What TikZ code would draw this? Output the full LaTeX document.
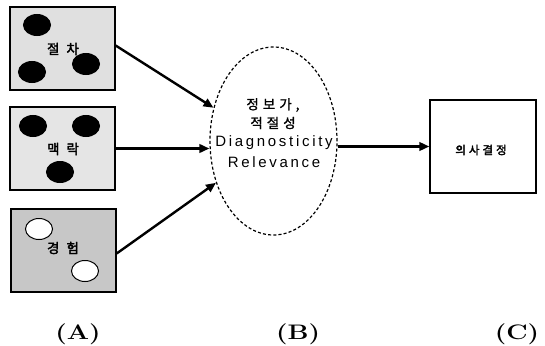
\documentclass[tikz,border=0pt]{standalone}
\usepackage{fontspec}
\usepackage{graphicx}
\usetikzlibrary{shapes.geometric,arrows.meta}
\setmainfont{Latin Modern Roman}
\newfontfamily\kofont{Noto Sans CJK KR}
\newfontfamily\kobold{Noto Sans CJK KR}[FakeBold=2.5]
\newfontfamily\latsp[LetterSpace=18]{Liberation Sans}
\newfontfamily\kosp[LetterSpace=30,FakeBold=1.5]{Noto Sans CJK KR}
\begin{document}
\begin{tikzpicture}[x=1pt,y=-1pt,
  srcbox/.style={draw=black,line width=1.3pt,minimum width=105pt,minimum height=83pt,inner sep=0pt},
  dot/.style={ellipse,draw=black,line width=1pt,minimum width=27pt,minimum height=21pt,inner sep=0pt},
  blackdot/.style={dot,fill=black},
  whitedot/.style={dot,fill=white},
  arr/.style={line width=2.4pt,-{Triangle[length=10pt,width=8.5pt]}},
  boxtxt/.style={font=\kobold\fontsize{13.5}{15}\selectfont},
  lab/.style={font=\bfseries\fontsize{21}{23}\selectfont}]
\useasboundingbox (0,0) rectangle (545,345);
% source boxes
\node[srcbox,fill=black!12] (b1) at (62.5,48.5) {};
\node[srcbox,fill=black!10] (b2) at (62.5,148.5) {};
\node[srcbox,fill=black!22] (b3) at (63.5,250.5) {};
% dots
\node[blackdot] (d11) at (37,25) {};
\node[blackdot] (d12) at (32,72) {};
\node[blackdot] (d13) at (86,64) {};
\node[blackdot] (d21) at (33,126) {};
\node[blackdot] (d22) at (86,126) {};
\node[blackdot] (d23) at (60,172) {};
\node[whitedot] (d31) at (39,229) {};
\node[whitedot] (d32) at (85,271) {};
% box texts
\node[boxtxt] (t1) at (63,49) {절\hspace{7pt}차};
\node[boxtxt] (t2) at (63,149) {맥\hspace{7pt}락};
\node[boxtxt] (t3) at (63,248) {경\hspace{7pt}험};
% ellipse
\node[ellipse,draw=black,line width=1.2pt,dash pattern=on 3pt off 2.2pt,minimum width=127pt,minimum height=188pt,inner sep=0pt] (B) at (273.5,141) {};
\node[font=\kosp\fontsize{13.5}{15}\selectfont] (e1) at (273,105) {정보가,};
\node[font=\kosp\fontsize{13.5}{15}\selectfont] (e2) at (273,123) {적절성};
\node[font=\latsp\fontsize{15}{17}\selectfont] (e3) at (274,143) {Diagnosticity};
\node[font=\latsp\fontsize{15}{17}\selectfont] (e4) at (274,162) {Relevance};
% decision box
\node[draw=black,line width=1.3pt,fill=white,minimum width=106pt,minimum height=93pt,inner sep=0pt] (C) at (483,146.5) {};
\node[font=\kobold\fontsize{11.5}{13}\selectfont] (ct) at (481,150) {의\hspace{3pt}사\hspace{3pt}결\hspace{3pt}정};
% arrows
\draw[arr] ([yshift=3pt]b1.east) -- (B.151);
\draw[arr] (b2.east) -- (b2.east -| B.west);
\draw[arr] ([yshift=-3pt]b3.east) -- (B.216);
\draw[arr] (B.east |- C.west) -- (C.west);
% labels
\node[lab] (LA) at (78,334) {\scalebox{1.25}[1]{(A)}};
\node[lab] (LB) at (298,334) {\scalebox{1.25}[1]{(B)}};
\node[lab] (LC) at (517,334) {\scalebox{1.25}[1]{(C)}};
\end{tikzpicture}
\end{document}
